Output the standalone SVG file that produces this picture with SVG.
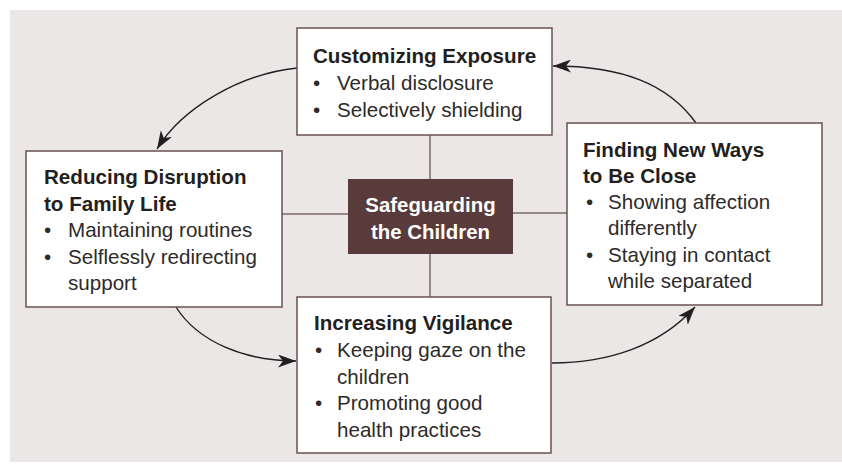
<svg xmlns="http://www.w3.org/2000/svg" width="842" height="465" viewBox="0 0 842 465">
<style>
.box{fill:#ffffff;stroke:#6a5252;stroke-width:1.5}
.hub{fill:#5a3b3c}
.link{stroke:#7d6a6a;stroke-width:1.5;fill:none}
.arrow{stroke:#231f20;stroke-width:1.4;fill:none;marker-end:url(#ah)}
.t{font-family:"Liberation Sans",Arial,sans-serif;font-size:20.6px;font-weight:bold;fill:#231f20}
.b{font-family:"Liberation Sans",Arial,sans-serif;font-size:20.6px;fill:#2e2a2a}
.c{font-family:"Liberation Sans",Arial,sans-serif;font-size:20.4px;font-weight:bold;fill:#ffffff;text-anchor:middle}
</style>
<defs>
<marker id="ah" viewBox="0 0 18 13" refX="18" refY="6.5" markerWidth="18" markerHeight="13" markerUnits="userSpaceOnUse" orient="auto">
<path d="M0,0 L18,6.5 L0,13 L5,6.5 Z" fill="#231f20"/>
</marker>
</defs>
<rect x="10" y="10" width="832" height="452" fill="#ebe7e6"/>
<g id="connectors">
<line class="link" x1="430" y1="135" x2="430" y2="179"/>
<line class="link" x1="430" y1="254" x2="430" y2="297"/>
<line class="link" x1="282" y1="214" x2="348" y2="214"/>
<line class="link" x1="513" y1="213" x2="567" y2="213"/>
<path class="arrow" d="M297,68 C240,74 182,108 157,149"/>
<path class="arrow" d="M176,307 C198,342 245,361 296,361"/>
<path class="arrow" d="M552,363 C608,363 660,346 695,307"/>
<path class="arrow" d="M696,123 C668,84 622,66 553,66"/>
</g>
<g id="top">
<rect class="box" x="297" y="28" width="255" height="107"/>
<text class="t" x="313" y="63">Customizing Exposure</text>
<text class="b" x="313" y="90">•</text><text class="b" x="337" y="90">Verbal disclosure</text>
<text class="b" x="313" y="117">•</text><text class="b" x="337" y="117">Selectively shielding</text>
</g>
<g id="left">
<rect class="box" x="26" y="151" width="256" height="156"/>
<text class="t" x="44" y="184">Reducing Disruption</text>
<text class="t" x="44" y="210.5">to Family Life</text>
<text class="b" x="44" y="237">•</text><text class="b" x="68" y="237">Maintaining routines</text>
<text class="b" x="44" y="263.5">•</text><text class="b" x="68" y="263.5">Selflessly redirecting</text>
<text class="b" x="68" y="290">support</text>
</g>
<g id="right">
<rect class="box" x="567" y="123" width="255" height="182"/>
<text class="t" x="583" y="156.5">Finding New Ways</text>
<text class="t" x="583" y="182.5">to Be Close</text>
<text class="b" x="586" y="209">•</text><text class="b" x="608" y="209">Showing affection</text>
<text class="b" x="608" y="235">differently</text>
<text class="b" x="586" y="261.5">•</text><text class="b" x="608" y="261.5">Staying in contact</text>
<text class="b" x="608" y="287.5">while separated</text>
</g>
<g id="bottom">
<rect class="box" x="297" y="297" width="254" height="156"/>
<text class="t" x="314" y="330">Increasing Vigilance</text>
<text class="b" x="315" y="357">•</text><text class="b" x="337" y="357">Keeping gaze on the</text>
<text class="b" x="337" y="383.5">children</text>
<text class="b" x="315" y="410">•</text><text class="b" x="337" y="410">Promoting good</text>
<text class="b" x="337" y="436.5">health practices</text>
</g>
<g id="center">
<rect class="hub" x="348" y="179" width="165" height="75"/>
<text class="c" x="430.5" y="211.5">Safeguarding</text>
<text class="c" x="430.5" y="238.5">the Children</text>
</g>
</svg>
